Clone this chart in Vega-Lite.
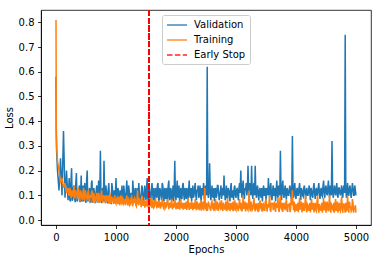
{
"$schema": "https://vega.github.io/schema/vega-lite/v6.json",
"width": 330, "height": 215,
"autosize": {"type": "none"},
"padding": {"left": 41, "top": 10, "right": 8, "bottom": 36},
"config": {
 "font": "DejaVu Sans",
 "view": {"stroke": "#000", "strokeWidth": 0.8},
 "axis": {"grid": false, "labelOverlap": false, "domainColor": "#000", "domainWidth": 0.8, "tickColor": "#000", "tickWidth": 0.8, "tickSize": 3.5, "labelPadding": 3.5, "labelFont": "DejaVu Sans", "labelFontSize": 10, "labelColor": "#000", "titleFont": "DejaVu Sans", "titleFontSize": 10, "titleFontWeight": "normal", "titleColor": "#000"}
},
"data": {"values": [
{"e":0,"v":0.58,"t":0.81},{"e":5,"v":0.35,"t":0.37},{"e":10,"v":0.28,"t":0.3},{"e":25,"v":0.2,"t":0.24},{"e":50,"v":0.12,"t":0.2},
{"e":75,"v":0.25,"t":0.15},{"e":100,"v":0.1,"t":0.17},{"e":125,"v":0.36,"t":0.13},{"e":150,"v":0.09,"t":0.15},{"e":175,"v":0.2,"t":0.11},
{"e":200,"v":0.08,"t":0.13},{"e":220,"v":0.17,"t":0.1},{"e":240,"v":0.075,"t":0.12},{"e":260,"v":0.21,"t":0.1},{"e":280,"v":0.085,"t":0.095},{"e":300,"v":0.14,"t":0.14},{"e":320,"v":0.072,"t":0.09},{"e":340,"v":0.19,"t":0.11},{"e":360,"v":0.08,"t":0.085},{"e":380,"v":0.12,"t":0.12},
{"e":400,"v":0.072,"t":0.085},{"e":420,"v":0.18,"t":0.11},{"e":440,"v":0.09,"t":0.08},{"e":460,"v":0.075,"t":0.13},{"e":480,"v":0.15,"t":0.078},{"e":500,"v":0.07,"t":0.1},{"e":520,"v":0.2,"t":0.085},{"e":540,"v":0.085,"t":0.12},{"e":560,"v":0.13,"t":0.075},{"e":580,"v":0.07,"t":0.09},
{"e":600,"v":0.16,"t":0.12},{"e":620,"v":0.075,"t":0.072},{"e":640,"v":0.11,"t":0.095},{"e":660,"v":0.068,"t":0.08},{"e":680,"v":0.14,"t":0.11},{"e":700,"v":0.085,"t":0.07},{"e":720,"v":0.07,"t":0.1},{"e":740,"v":0.28,"t":0.075},{"e":760,"v":0.068,"t":0.12},{"e":780,"v":0.13,"t":0.07},
{"e":800,"v":0.24,"t":0.09},{"e":820,"v":0.072,"t":0.068},{"e":840,"v":0.12,"t":0.1},{"e":860,"v":0.068,"t":0.075},{"e":880,"v":0.15,"t":0.066},{"e":900,"v":0.085,"t":0.11},{"e":920,"v":0.068,"t":0.07},{"e":940,"v":0.13,"t":0.085},{"e":960,"v":0.09,"t":0.065},{"e":980,"v":0.068,"t":0.1},
{"e":1000,"v":0.17,"t":0.065},{"e":1020,"v":0.07,"t":0.09},{"e":1040,"v":0.12,"t":0.075},{"e":1060,"v":0.085,"t":0.06},{"e":1080,"v":0.068,"t":0.1},{"e":1100,"v":0.14,"t":0.062},{"e":1120,"v":0.08,"t":0.085},{"e":1140,"v":0.11,"t":0.07},{"e":1160,"v":0.07,"t":0.06},{"e":1180,"v":0.16,"t":0.1},
{"e":1200,"v":0.075,"t":0.058},{"e":1220,"v":0.12,"t":0.08},{"e":1240,"v":0.068,"t":0.065},{"e":1260,"v":0.09,"t":0.095},{"e":1280,"v":0.16,"t":0.056},{"e":1300,"v":0.07,"t":0.075},{"e":1320,"v":0.13,"t":0.085},{"e":1340,"v":0.085,"t":0.055},{"e":1360,"v":0.067,"t":0.12},{"e":1380,"v":0.15,"t":0.06},
{"e":1400,"v":0.07,"t":0.08},{"e":1420,"v":0.1,"t":0.052},{"e":1440,"v":0.13,"t":0.09},{"e":1460,"v":0.066,"t":0.06},{"e":1480,"v":0.14,"t":0.05},{"e":1500,"v":0.08,"t":0.075},{"e":1520,"v":0.17,"t":0.085},{"e":1540,"v":0.07,"t":0.05},{"e":1560,"v":0.12,"t":0.065},{"e":1580,"v":0.075,"t":0.09},
{"e":1600,"v":0.15,"t":0.048},{"e":1620,"v":0.08,"t":0.07},{"e":1640,"v":0.07,"t":0.055},{"e":1660,"v":0.13,"t":0.085},{"e":1680,"v":0.09,"t":0.047},{"e":1700,"v":0.15,"t":0.065},{"e":1720,"v":0.075,"t":0.08},{"e":1740,"v":0.12,"t":0.046},{"e":1760,"v":0.08,"t":0.06},{"e":1780,"v":0.14,"t":0.075},
{"e":1800,"v":0.075,"t":0.045},{"e":1820,"v":0.1,"t":0.07},{"e":1840,"v":0.13,"t":0.055},{"e":1860,"v":0.075,"t":0.085},{"e":1880,"v":0.16,"t":0.044},{"e":1900,"v":0.08,"t":0.06},{"e":1920,"v":0.12,"t":0.075},{"e":1940,"v":0.09,"t":0.043},{"e":1960,"v":0.075,"t":0.065},{"e":1980,"v":0.24,"t":0.08},
{"e":2000,"v":0.08,"t":0.043},{"e":2020,"v":0.16,"t":0.06},{"e":2040,"v":0.1,"t":0.075},{"e":2060,"v":0.075,"t":0.042},{"e":2080,"v":0.13,"t":0.085},{"e":2100,"v":0.085,"t":0.05},{"e":2120,"v":0.15,"t":0.042},{"e":2140,"v":0.08,"t":0.07},{"e":2160,"v":0.11,"t":0.055},{"e":2180,"v":0.13,"t":0.041},
{"e":2200,"v":0.08,"t":0.09},{"e":2220,"v":0.16,"t":0.041},{"e":2240,"v":0.09,"t":0.06},{"e":2260,"v":0.075,"t":0.075},{"e":2280,"v":0.14,"t":0.04},{"e":2300,"v":0.1,"t":0.055},{"e":2320,"v":0.15,"t":0.085},{"e":2340,"v":0.08,"t":0.04},{"e":2360,"v":0.12,"t":0.065},{"e":2380,"v":0.09,"t":0.045},
{"e":2400,"v":0.14,"t":0.039},{"e":2420,"v":0.075,"t":0.08},{"e":2440,"v":0.1,"t":0.05},{"e":2460,"v":0.15,"t":0.039},{"e":2480,"v":0.08,"t":0.13},{"e":2500,"v":0.13,"t":0.045},{"e":2520,"v":0.62,"t":0.038},{"e":2540,"v":0.09,"t":0.07},{"e":2560,"v":0.23,"t":0.055},{"e":2580,"v":0.08,"t":0.038},
{"e":2600,"v":0.14,"t":0.075},{"e":2620,"v":0.09,"t":0.045},{"e":2640,"v":0.075,"t":0.038},{"e":2660,"v":0.13,"t":0.085},{"e":2680,"v":0.1,"t":0.05},{"e":2700,"v":0.14,"t":0.037},{"e":2720,"v":0.08,"t":0.065},{"e":2740,"v":0.12,"t":0.04},{"e":2760,"v":0.085,"t":0.08},{"e":2780,"v":0.13,"t":0.037},
{"e":2800,"v":0.18,"t":0.06},{"e":2820,"v":0.08,"t":0.045},{"e":2840,"v":0.14,"t":0.037},{"e":2860,"v":0.09,"t":0.09},{"e":2880,"v":0.12,"t":0.05},{"e":2900,"v":0.075,"t":0.036},{"e":2920,"v":0.15,"t":0.07},{"e":2940,"v":0.1,"t":0.042},{"e":2960,"v":0.08,"t":0.036},{"e":2980,"v":0.14,"t":0.08},
{"e":3000,"v":0.09,"t":0.04},{"e":3020,"v":0.13,"t":0.06},{"e":3040,"v":0.08,"t":0.036},{"e":3060,"v":0.15,"t":0.085},{"e":3080,"v":0.2,"t":0.045},{"e":3100,"v":0.09,"t":0.035},{"e":3120,"v":0.16,"t":0.1},{"e":3140,"v":0.085,"t":0.05},{"e":3160,"v":0.12,"t":0.035},{"e":3180,"v":0.1,"t":0.07},
{"e":3200,"v":0.22,"t":0.04},{"e":3220,"v":0.09,"t":0.12},{"e":3240,"v":0.12,"t":0.035},{"e":3260,"v":0.22,"t":0.06},{"e":3280,"v":0.085,"t":0.045},{"e":3300,"v":0.15,"t":0.09},{"e":3320,"v":0.22,"t":0.035},{"e":3340,"v":0.09,"t":0.065},{"e":3360,"v":0.14,"t":0.04},{"e":3380,"v":0.08,"t":0.034},
{"e":3400,"v":0.13,"t":0.08},{"e":3420,"v":0.09,"t":0.045},{"e":3440,"v":0.075,"t":0.034},{"e":3460,"v":0.14,"t":0.065},{"e":3480,"v":0.1,"t":0.04},{"e":3500,"v":0.08,"t":0.085},{"e":3520,"v":0.13,"t":0.034},{"e":3540,"v":0.17,"t":0.05},{"e":3560,"v":0.09,"t":0.1},{"e":3580,"v":0.15,"t":0.034},
{"e":3600,"v":0.08,"t":0.06},{"e":3620,"v":0.14,"t":0.04},{"e":3640,"v":0.1,"t":0.075},{"e":3660,"v":0.075,"t":0.033},{"e":3680,"v":0.16,"t":0.05},{"e":3700,"v":0.09,"t":0.09},{"e":3720,"v":0.13,"t":0.033},{"e":3740,"v":0.28,"t":0.1},{"e":3760,"v":0.08,"t":0.045},{"e":3780,"v":0.16,"t":0.033},
{"e":3800,"v":0.09,"t":0.07},{"e":3820,"v":0.14,"t":0.04},{"e":3840,"v":0.085,"t":0.085},{"e":3860,"v":0.12,"t":0.033},{"e":3880,"v":0.1,"t":0.055},{"e":3900,"v":0.14,"t":0.032},{"e":3920,"v":0.085,"t":0.09},{"e":3940,"v":0.34,"t":0.12},{"e":3960,"v":0.09,"t":0.04},{"e":3980,"v":0.15,"t":0.032},
{"e":4000,"v":0.085,"t":0.065},{"e":4020,"v":0.13,"t":0.04},{"e":4040,"v":0.1,"t":0.032},{"e":4060,"v":0.15,"t":0.09},{"e":4080,"v":0.08,"t":0.045},{"e":4100,"v":0.12,"t":0.031},{"e":4120,"v":0.095,"t":0.07},{"e":4140,"v":0.14,"t":0.04},{"e":4160,"v":0.085,"t":0.1},{"e":4180,"v":0.13,"t":0.031},
{"e":4200,"v":0.1,"t":0.06},{"e":4220,"v":0.14,"t":0.04},{"e":4240,"v":0.08,"t":0.031},{"e":4260,"v":0.12,"t":0.085},{"e":4280,"v":0.09,"t":0.045},{"e":4300,"v":0.15,"t":0.031},{"e":4320,"v":0.085,"t":0.07},{"e":4340,"v":0.13,"t":0.035},{"e":4360,"v":0.1,"t":0.1},{"e":4380,"v":0.15,"t":0.03},
{"e":4400,"v":0.085,"t":0.055},{"e":4420,"v":0.13,"t":0.04},{"e":4440,"v":0.095,"t":0.03},{"e":4460,"v":0.16,"t":0.09},{"e":4480,"v":0.09,"t":0.045},{"e":4500,"v":0.14,"t":0.03},{"e":4520,"v":0.1,"t":0.075},{"e":4540,"v":0.16,"t":0.035},{"e":4560,"v":0.09,"t":0.1},{"e":4580,"v":0.13,"t":0.03},
{"e":4600,"v":0.32,"t":0.06},{"e":4620,"v":0.09,"t":0.04},{"e":4640,"v":0.14,"t":0.03},{"e":4660,"v":0.1,"t":0.085},{"e":4680,"v":0.15,"t":0.04},{"e":4700,"v":0.09,"t":0.03},{"e":4720,"v":0.13,"t":0.07},{"e":4740,"v":0.1,"t":0.035},{"e":4760,"v":0.14,"t":0.095},{"e":4780,"v":0.09,"t":0.03},
{"e":4800,"v":0.14,"t":0.065},{"e":4820,"v":0.75,"t":0.03},{"e":4840,"v":0.09,"t":0.04},{"e":4860,"v":0.15,"t":0.1},{"e":4880,"v":0.1,"t":0.03},{"e":4900,"v":0.14,"t":0.06},{"e":4920,"v":0.09,"t":0.035},{"e":4940,"v":0.15,"t":0.085},{"e":4960,"v":0.1,"t":0.03},{"e":4980,"v":0.14,"t":0.05},
{"e":4999,"v":0.1,"t":0.03},
{"e":210,"v":0.12,"t":0.1},{"e":230,"v":0.085,"t":0.13},{"e":250,"v":0.16,"t":0.09},{"e":270,"v":0.078,"t":0.12},{"e":290,"v":0.13,"t":0.11},{"e":310,"v":0.09,"t":0.09},{"e":330,"v":0.15,"t":0.12},{"e":350,"v":0.075,"t":0.1},{"e":370,"v":0.1,"t":0.13},{"e":390,"v":0.14,"t":0.09},
{"e":410,"v":0.1,"t":0.12},{"e":430,"v":0.075,"t":0.09},{"e":450,"v":0.14,"t":0.11},{"e":470,"v":0.12,"t":0.085},{"e":490,"v":0.08,"t":0.12},{"e":510,"v":0.16,"t":0.09},{"e":530,"v":0.075,"t":0.11},{"e":550,"v":0.11,"t":0.08},{"e":570,"v":0.09,"t":0.1},{"e":590,"v":0.15,"t":0.11},
{"e":610,"v":0.07,"t":0.085},{"e":630,"v":0.13,"t":0.11},{"e":650,"v":0.09,"t":0.075},{"e":670,"v":0.12,"t":0.1},{"e":690,"v":0.075,"t":0.08},{"e":710,"v":0.16,"t":0.11},{"e":730,"v":0.1,"t":0.075},{"e":750,"v":0.085,"t":0.1},{"e":770,"v":0.12,"t":0.08},{"e":790,"v":0.075,"t":0.1},
{"e":810,"v":0.11,"t":0.1},{"e":830,"v":0.14,"t":0.075},{"e":850,"v":0.075,"t":0.085},{"e":870,"v":0.12,"t":0.1},{"e":890,"v":0.09,"t":0.08},{"e":910,"v":0.07,"t":0.07},{"e":930,"v":0.15,"t":0.095},{"e":950,"v":0.08,"t":0.075},{"e":970,"v":0.12,"t":0.09},{"e":990,"v":0.1,"t":0.07},
{"e":1010,"v":0.09,"t":0.085},{"e":1030,"v":0.13,"t":0.065},{"e":1050,"v":0.07,"t":0.095},{"e":1070,"v":0.12,"t":0.07},{"e":1090,"v":0.1,"t":0.08},{"e":1110,"v":0.08,"t":0.09},{"e":1130,"v":0.14,"t":0.065},{"e":1150,"v":0.075,"t":0.085},{"e":1170,"v":0.12,"t":0.09},{"e":1190,"v":0.09,"t":0.07},
{"e":1210,"v":0.14,"t":0.085},{"e":1230,"v":0.08,"t":0.06},{"e":1250,"v":0.11,"t":0.09},{"e":1270,"v":0.07,"t":0.065},{"e":1290,"v":0.12,"t":0.08},{"e":1310,"v":0.1,"t":0.09},{"e":1330,"v":0.075,"t":0.06},{"e":1350,"v":0.13,"t":0.085},{"e":1370,"v":0.09,"t":0.07},{"e":1390,"v":0.11,"t":0.09},
{"e":1410,"v":0.09,"t":0.07},{"e":1430,"v":0.14,"t":0.085},{"e":1450,"v":0.075,"t":0.06},{"e":1470,"v":0.11,"t":0.08},{"e":1490,"v":0.1,"t":0.075},{"e":1510,"v":0.13,"t":0.055},{"e":1530,"v":0.08,"t":0.07},{"e":1550,"v":0.14,"t":0.08},{"e":1570,"v":0.09,"t":0.055},{"e":1590,"v":0.12,"t":0.07},
{"e":1610,"v":0.11,"t":0.075},{"e":1630,"v":0.13,"t":0.05},{"e":1650,"v":0.09,"t":0.08},{"e":1670,"v":0.1,"t":0.06},{"e":1690,"v":0.14,"t":0.075},{"e":1710,"v":0.08,"t":0.05},{"e":1730,"v":0.13,"t":0.07},{"e":1750,"v":0.1,"t":0.065},{"e":1770,"v":0.15,"t":0.08},{"e":1790,"v":0.09,"t":0.05},
{"e":1810,"v":0.13,"t":0.07},{"e":1830,"v":0.085,"t":0.05},{"e":1850,"v":0.1,"t":0.075},{"e":1870,"v":0.14,"t":0.06},{"e":1890,"v":0.09,"t":0.07},{"e":1910,"v":0.13,"t":0.05},{"e":1930,"v":0.08,"t":0.08},{"e":1950,"v":0.14,"t":0.06},{"e":1970,"v":0.12,"t":0.05},{"e":1990,"v":0.1,"t":0.07},
{"e":2010,"v":0.12,"t":0.07},{"e":2030,"v":0.09,"t":0.045},{"e":2050,"v":0.14,"t":0.06},{"e":2070,"v":0.1,"t":0.075},{"e":2090,"v":0.09,"t":0.05},{"e":2110,"v":0.14,"t":0.07},{"e":2130,"v":0.1,"t":0.06},{"e":2150,"v":0.13,"t":0.045},{"e":2170,"v":0.085,"t":0.075},{"e":2190,"v":0.12,"t":0.06},
{"e":2210,"v":0.12,"t":0.055},{"e":2230,"v":0.1,"t":0.07},{"e":2250,"v":0.13,"t":0.045},{"e":2270,"v":0.11,"t":0.06},{"e":2290,"v":0.09,"t":0.07},{"e":2310,"v":0.13,"t":0.045},{"e":2330,"v":0.1,"t":0.06},{"e":2350,"v":0.12,"t":0.075},{"e":2370,"v":0.14,"t":0.045},{"e":2390,"v":0.1,"t":0.07},
{"e":2410,"v":0.1,"t":0.065},{"e":2430,"v":0.13,"t":0.045},{"e":2450,"v":0.12,"t":0.075},{"e":2470,"v":0.09,"t":0.06},{"e":2490,"v":0.14,"t":0.05},{"e":2510,"v":0.1,"t":0.07},{"e":2530,"v":0.12,"t":0.045},{"e":2550,"v":0.11,"t":0.065},{"e":2570,"v":0.13,"t":0.045},{"e":2590,"v":0.1,"t":0.07},
{"e":2610,"v":0.1,"t":0.05},{"e":2630,"v":0.13,"t":0.07},{"e":2650,"v":0.12,"t":0.06},{"e":2670,"v":0.09,"t":0.045},{"e":2690,"v":0.14,"t":0.075},{"e":2710,"v":0.11,"t":0.05},{"e":2730,"v":0.1,"t":0.07},{"e":2750,"v":0.14,"t":0.055},{"e":2770,"v":0.11,"t":0.045},{"e":2790,"v":0.1,"t":0.07},
{"e":2810,"v":0.12,"t":0.045},{"e":2830,"v":0.1,"t":0.075},{"e":2850,"v":0.09,"t":0.06},{"e":2870,"v":0.13,"t":0.045},{"e":2890,"v":0.1,"t":0.07},{"e":2910,"v":0.13,"t":0.055},{"e":2930,"v":0.09,"t":0.045},{"e":2950,"v":0.12,"t":0.075},{"e":2970,"v":0.13,"t":0.06},{"e":2990,"v":0.1,"t":0.045},
{"e":3010,"v":0.12,"t":0.07},{"e":3030,"v":0.1,"t":0.045},{"e":3050,"v":0.13,"t":0.065},{"e":3070,"v":0.11,"t":0.05},{"e":3090,"v":0.12,"t":0.07},{"e":3110,"v":0.14,"t":0.06},{"e":3130,"v":0.1,"t":0.045},{"e":3150,"v":0.13,"t":0.075},{"e":3170,"v":0.15,"t":0.06},{"e":3190,"v":0.12,"t":0.045},
{"e":3210,"v":0.13,"t":0.07},{"e":3230,"v":0.15,"t":0.05},{"e":3250,"v":0.1,"t":0.075},{"e":3270,"v":0.12,"t":0.04},{"e":3290,"v":0.14,"t":0.07},{"e":3310,"v":0.1,"t":0.05},{"e":3330,"v":0.12,"t":0.065},{"e":3350,"v":0.13,"t":0.045},{"e":3370,"v":0.1,"t":0.07},{"e":3390,"v":0.12,"t":0.06},
{"e":3410,"v":0.1,"t":0.05},{"e":3430,"v":0.13,"t":0.07},{"e":3450,"v":0.12,"t":0.06},{"e":3470,"v":0.1,"t":0.04},{"e":3490,"v":0.13,"t":0.075},{"e":3510,"v":0.12,"t":0.05},{"e":3530,"v":0.1,"t":0.065},{"e":3550,"v":0.12,"t":0.07},{"e":3570,"v":0.13,"t":0.04},{"e":3590,"v":0.1,"t":0.07},
{"e":3610,"v":0.12,"t":0.07},{"e":3630,"v":0.1,"t":0.05},{"e":3650,"v":0.13,"t":0.045},{"e":3670,"v":0.12,"t":0.07},{"e":3690,"v":0.1,"t":0.06},{"e":3710,"v":0.14,"t":0.04},{"e":3730,"v":0.1,"t":0.075},{"e":3750,"v":0.12,"t":0.05},{"e":3770,"v":0.13,"t":0.07},{"e":3790,"v":0.11,"t":0.06},
{"e":3810,"v":0.12,"t":0.05},{"e":3830,"v":0.1,"t":0.07},{"e":3850,"v":0.13,"t":0.04},{"e":3870,"v":0.1,"t":0.065},{"e":3890,"v":0.13,"t":0.07},{"e":3910,"v":0.11,"t":0.045},{"e":3930,"v":0.13,"t":0.06},{"e":3950,"v":0.12,"t":0.07},{"e":3970,"v":0.13,"t":0.075},{"e":3990,"v":0.1,"t":0.05},
{"e":4010,"v":0.12,"t":0.04},{"e":4030,"v":0.1,"t":0.07},{"e":4050,"v":0.13,"t":0.06},{"e":4070,"v":0.11,"t":0.045},{"e":4090,"v":0.13,"t":0.075},{"e":4110,"v":0.1,"t":0.05},{"e":4130,"v":0.13,"t":0.04},{"e":4150,"v":0.11,"t":0.07},{"e":4170,"v":0.12,"t":0.05},{"e":4190,"v":0.1,"t":0.065},
{"e":4210,"v":0.12,"t":0.04},{"e":4230,"v":0.11,"t":0.07},{"e":4250,"v":0.13,"t":0.06},{"e":4270,"v":0.1,"t":0.045},{"e":4290,"v":0.13,"t":0.07},{"e":4310,"v":0.11,"t":0.05},{"e":4330,"v":0.12,"t":0.04},{"e":4350,"v":0.1,"t":0.075},{"e":4370,"v":0.13,"t":0.05},{"e":4390,"v":0.11,"t":0.065},
{"e":4410,"v":0.12,"t":0.04},{"e":4430,"v":0.1,"t":0.07},{"e":4450,"v":0.14,"t":0.06},{"e":4470,"v":0.11,"t":0.04},{"e":4490,"v":0.13,"t":0.075},{"e":4510,"v":0.11,"t":0.05},{"e":4530,"v":0.13,"t":0.045},{"e":4550,"v":0.11,"t":0.07},{"e":4570,"v":0.14,"t":0.04},{"e":4590,"v":0.1,"t":0.065},
{"e":4610,"v":0.13,"t":0.045},{"e":4630,"v":0.11,"t":0.07},{"e":4650,"v":0.12,"t":0.06},{"e":4670,"v":0.13,"t":0.04},{"e":4690,"v":0.1,"t":0.075},{"e":4710,"v":0.13,"t":0.05},{"e":4730,"v":0.11,"t":0.04},{"e":4750,"v":0.12,"t":0.07},{"e":4770,"v":0.1,"t":0.045},{"e":4790,"v":0.13,"t":0.065},
{"e":4810,"v":0.11,"t":0.05},{"e":4830,"v":0.13,"t":0.07},{"e":4850,"v":0.12,"t":0.045},{"e":4870,"v":0.1,"t":0.04},{"e":4890,"v":0.13,"t":0.075},{"e":4910,"v":0.11,"t":0.05},{"e":4930,"v":0.12,"t":0.04},{"e":4950,"v":0.13,"t":0.07},{"e":4970,"v":0.1,"t":0.045},{"e":4990,"v":0.12,"t":0.06}
]},
"layer": [
 {"mark": {"type": "line", "strokeWidth": 1.5},
  "encoding": {
   "x": {"field": "e", "type": "quantitative", "scale": {"domain": [-250, 5250], "nice": false, "zero": false}, "axis": {"values": [0,1000,2000,3000,4000,5000], "format": "d", "labelOverlap": false, "title": "Epochs", "titlePadding": 2}},
   "y": {"field": "v", "type": "quantitative", "scale": {"domain": [-0.02, 0.85], "nice": false, "zero": false}, "axis": {"values": [0,0.1,0.2,0.3,0.4,0.5,0.6,0.7,0.8], "tickCount": 9, "labelOverlap": false, "format": ".1f", "title": "Loss", "titlePadding": 4}},
   "color": {"datum": "Validation", "type": "nominal",
     "scale": {"domain": ["Validation","Training","Early Stop"], "range": ["#1f77b4","#ff7f0e","#ff0000"]},
     "legend": {"title": null, "orient": "none", "legendX": 121, "legendY": 5, "symbolType": "M-1,0H3", "symbolSize": 100, "symbolStrokeWidth": 1.5, "symbolOpacity": 0.85, "labelFontSize": 10, "labelFont": "DejaVu Sans", "labelColor": "#000", "labelOffset": 16, "padding": 4, "fillColor": "#ffffff", "strokeColor": "#cccccc", "cornerRadius": 2, "rowPadding": 4,
       "encode": {"symbols": {"update": {"strokeDash": {"signal": "datum.value === 'Early Stop' ? [5.5, 2.4] : [1, 0]"}}}}}}
  }},
 {"mark": {"type": "line", "strokeWidth": 1.5},
  "encoding": {
   "x": {"field": "e", "type": "quantitative"},
   "y": {"field": "t", "type": "quantitative"},
   "color": {"datum": "Training", "type": "nominal"}
  }},
 {"mark": {"type": "rule", "strokeWidth": 1.5, "strokeDash": [5.5, 2.4]},
  "encoding": {
   "x": {"datum": 1550, "type": "quantitative"},
   "color": {"datum": "Early Stop", "type": "nominal"}
  }}
]
}
